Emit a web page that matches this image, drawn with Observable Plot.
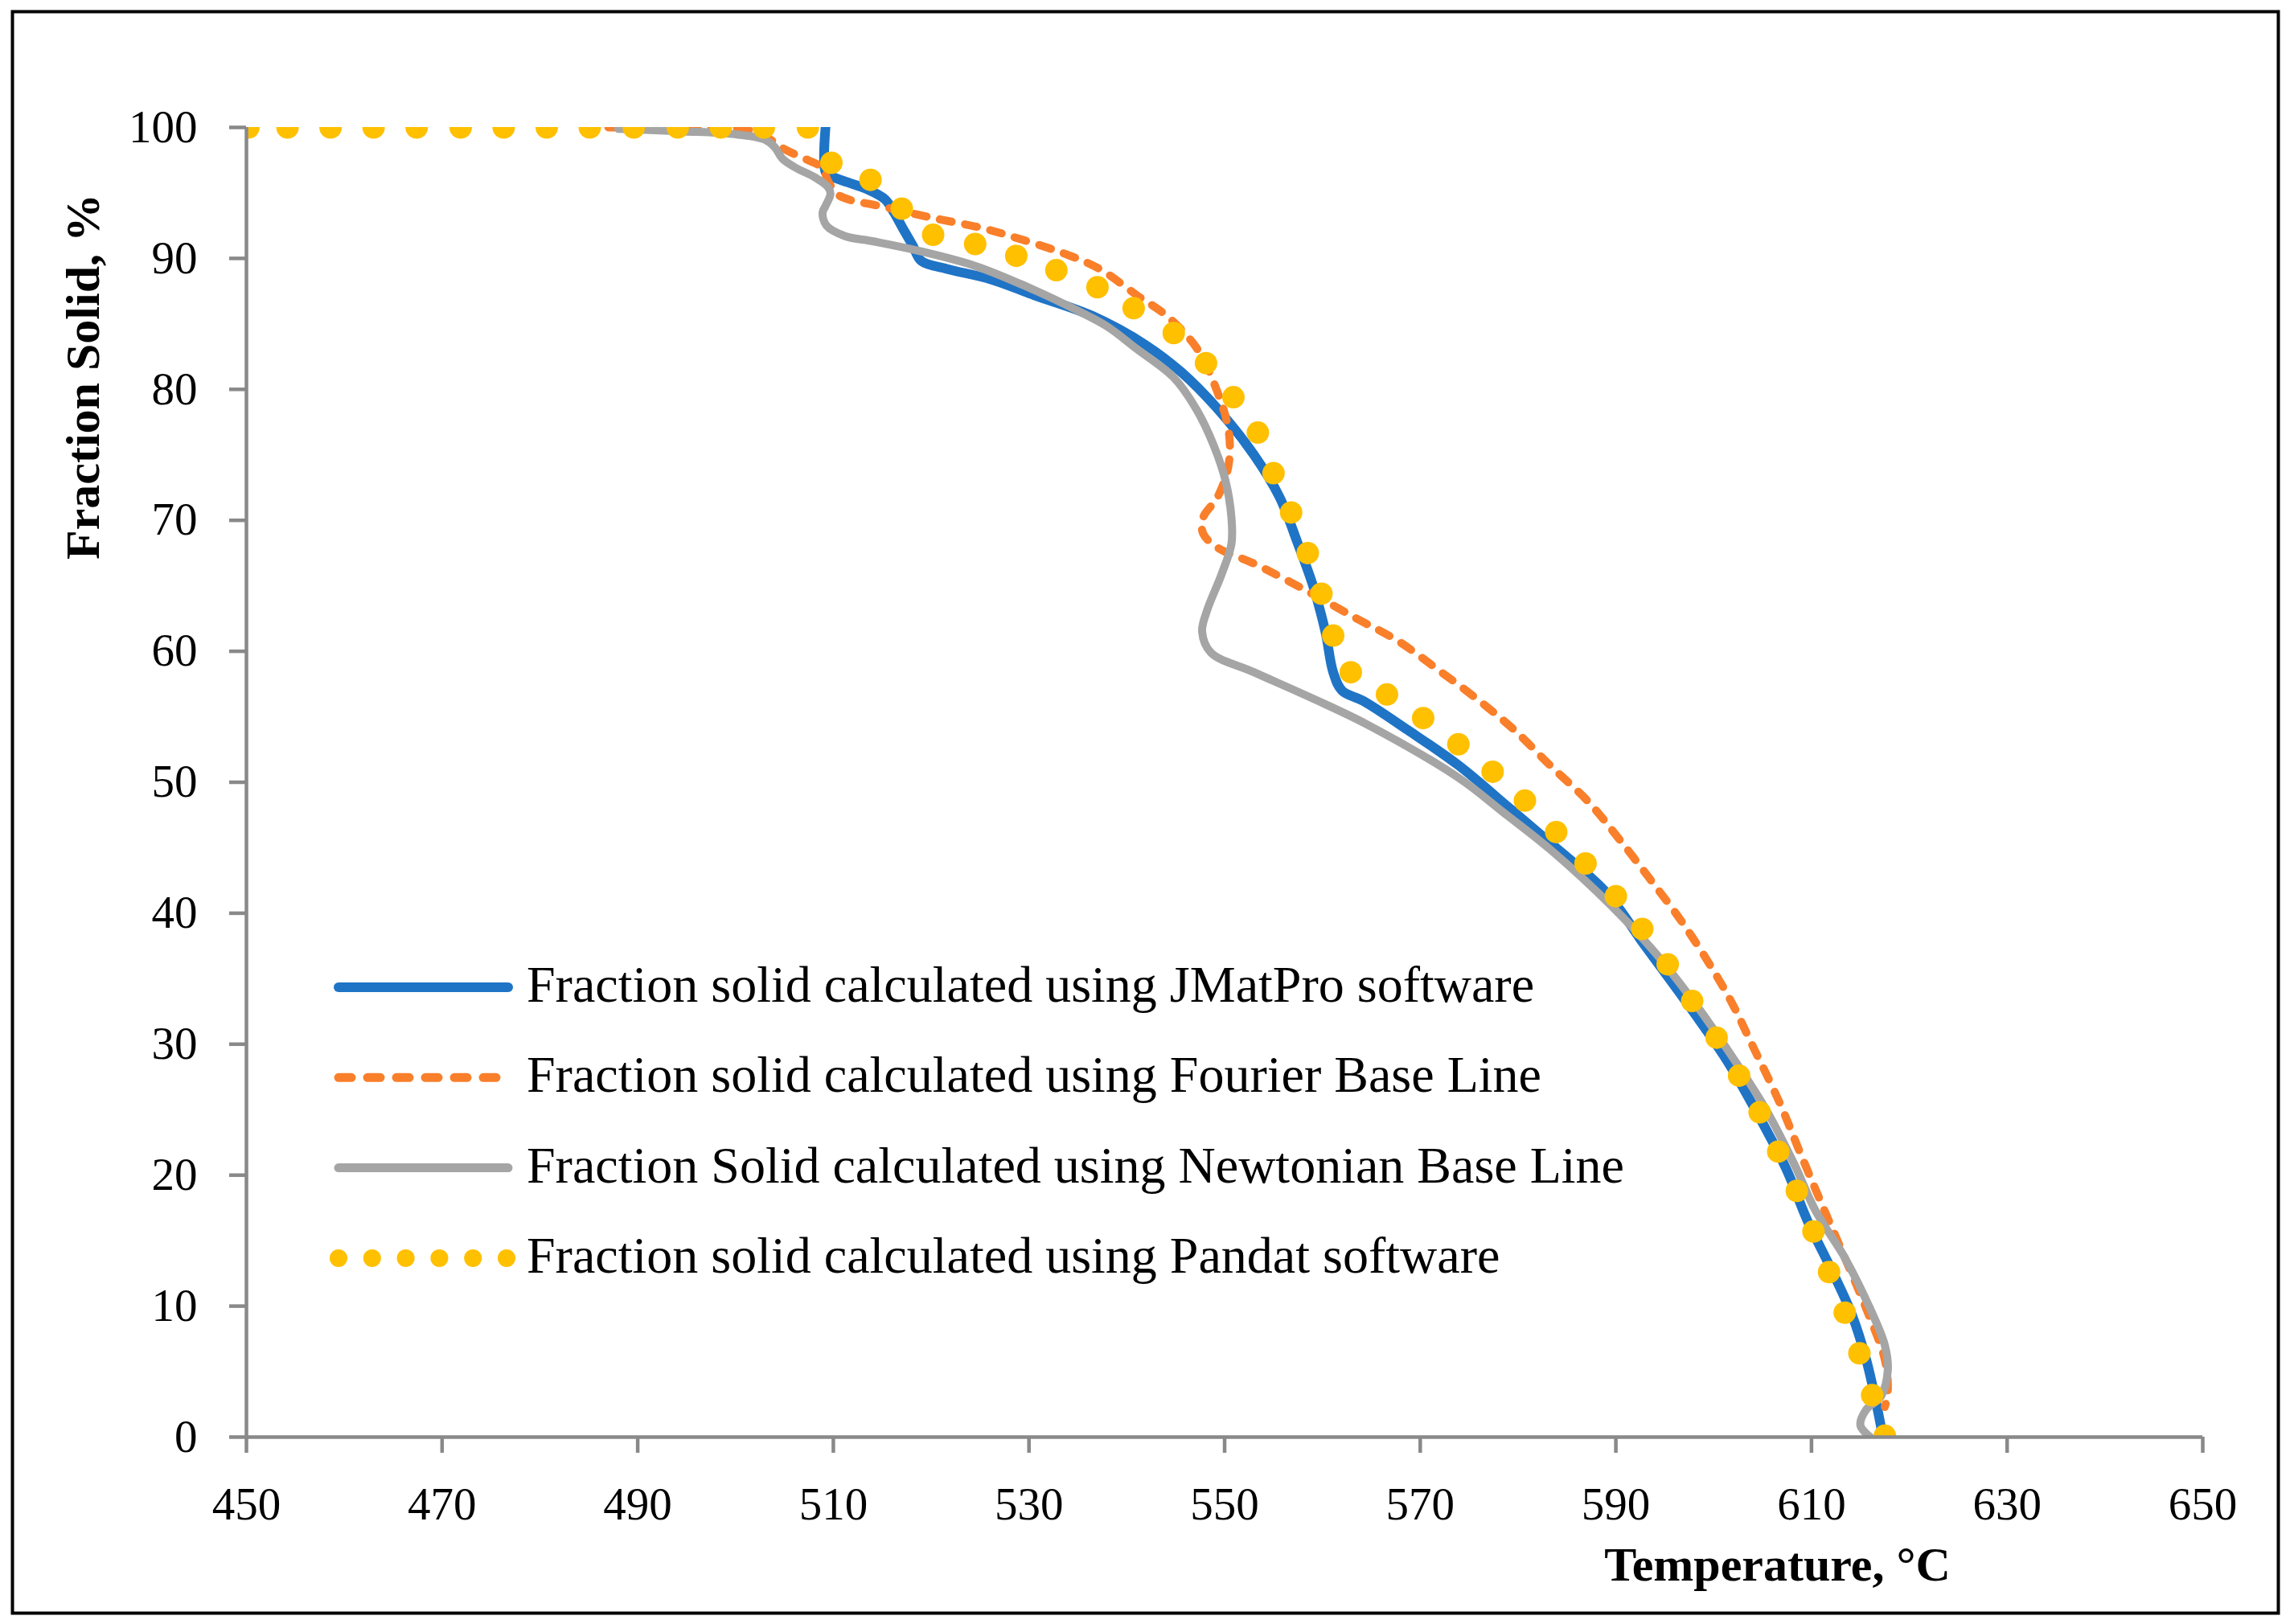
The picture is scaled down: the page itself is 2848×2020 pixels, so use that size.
<!DOCTYPE html>
<html>
<head>
<meta charset="utf-8">
<script src="https://cdn.jsdelivr.net/npm/d3@7"></script>
<script src="https://cdn.jsdelivr.net/npm/@observablehq/plot@0.6"></script>
<style>
  html, body { margin: 0; padding: 0; background: #fff; overflow: hidden; }
  #chart svg { display: block; }
</style>
</head>
<body>
<div id="chart"></div>
<script>
// ---- Data (temperature °C, fraction solid %) ----
const jmatproT = [509.2,509.2,509.7,511.5,513.4,515.3,516.2,517.1,518.1,519.0,521.6,526.1,530.5,536.5,541.9,545.6,549.3,553.0,555.6,557.5,559.0,560.3,561.1,562.0,564.2,568.7,573.9,579.0,583.4,589.0,592.9,597.7,601.4,604.4,607.4,609.6,611.9,614.1,615.6,616.7,617.3];
const jmatproF = [100,96.6,96.3,95.8,95.3,94.5,93.5,92.3,91.0,89.8,89.2,88.4,87.2,85.6,83.4,81.3,78.5,75.0,71.8,68.2,65.1,61.5,58.4,57.0,56.2,54.0,51.3,48.1,45.3,41.6,37.6,32.7,28.7,24.8,20.5,16.5,13.0,9.4,5.9,2.3,0];

const fourierT = [487.0,495.0,500.7,502.5,503.7,505.1,506.8,508.9,509.4,510.4,512.0,514.1,520.1,525.3,529.0,533.5,537.2,541.0,544.1,547.1,548.9,550.4,550.4,549.3,547.8,547.8,549.3,553.0,558.2,563.5,567.7,571.8,575.9,579.6,583.4,587.2,590.3,593.5,596.6,599.5,601.9,603.9,606.7,608.9,611.1,613.4,615.6,617.5,617.8,617.5];
const fourierF = [100,100,99.9,99.5,99.0,98.3,97.7,96.9,96.0,94.9,94.4,94.1,93.1,92.3,91.5,90.4,89.2,87.2,85.6,83.2,80.5,76.9,74.2,71.8,70.2,69.0,67.9,66.7,64.7,62.5,60.8,58.6,56.3,54.0,51.2,48.5,45.7,42.6,39.5,36.2,33.1,30.0,25.6,21.6,17.7,13.7,9.8,5.9,3.5,2.3];

const newtonianT = [488.0,494.7,499.6,502.9,504.0,504.8,506.2,508.1,509.5,509.7,509.2,508.9,509.3,511.2,514.1,518.6,524.6,530.5,535.0,538.0,541.0,544.8,547.1,548.9,550.1,550.7,550.7,549.7,548.2,547.7,548.6,553.0,559.0,564.6,574.0,578.5,583.4,589.5,594.0,598.5,602.2,605.2,608.2,610.4,613.4,616.0,617.5,617.8,617.1,615.6,615.0,616.0];
const newtonianF = [99.9,99.7,99.5,99.1,98.5,97.6,96.9,96.2,95.4,94.9,94.0,93.5,92.5,91.7,91.3,90.6,89.4,87.6,86.0,84.8,83.1,80.9,78.5,75.7,73.0,70.2,68.2,65.9,63.1,61.5,59.9,58.4,56.4,54.4,50.3,47.7,44.8,40.6,37.0,32.7,28.7,25.2,20.9,17.3,13.7,9.8,7.0,5.1,3.1,2.1,0.9,0];

const pandatT = [450.2,454.2,458.6,463.0,467.4,471.9,476.3,480.7,485.1,489.6,494.1,498.5,502.9,507.4,509.8,513.8,517.0,520.2,524.5,528.7,532.8,537.0,540.7,544.8,548.1,550.9,553.4,555.0,556.8,558.5,559.9,561.1,562.9,566.6,570.3,573.9,577.4,580.7,583.9,586.9,590.0,592.7,595.3,597.8,600.3,602.6,604.7,606.6,608.5,610.2,611.8,613.4,614.9,616.2,617.5];
const pandatF = [100,100,100,100,100,100,100,100,100,100,100,100,100,100,97.3,96.0,93.8,91.8,91.1,90.2,89.1,87.8,86.2,84.3,82.0,79.4,76.7,73.6,70.6,67.5,64.4,61.2,58.4,56.7,54.9,52.9,50.8,48.6,46.2,43.8,41.3,38.8,36.1,33.3,30.5,27.6,24.8,21.8,18.8,15.7,12.6,9.5,6.4,3.2,0.1];

const xTicks = [450,470,490,510,530,550,570,590,610,630,650];
const yTicks = [0,10,20,30,40,50,60,70,80,90,100];
const seriesLabels = [
  "Fraction solid calculated using JMatPro software",
  "Fraction solid calculated using Fourier Base Line",
  "Fraction Solid calculated using Newtonian Base Line",
  "Fraction solid calculated using Pandat software"
];
const xTitle = "Temperature, °C";
const yTitle = "Fraction Solid, %";

// ---- Build tables ----
const zip = (T, F) => T.map((t, i) => ({T: t, F: F[i]}));
const jmatpro = zip(jmatproT, jmatproF);
const fourier = zip(fourierT, fourierF);
const newtonian = zip(newtonianT, newtonianF);
const pandat = zip(pandatT, pandatF);

const C_BLUE = "#1f74c6", C_ORANGE = "#f97f2b", C_GRAY = "#a5a5a5", C_YELLOW = "#ffc000";
const AXIS = "#898989";
const FONT = "'Liberation Serif', 'Times New Roman', serif";

const chart = Plot.plot({
  width: 2848,
  height: 2020,
  marginLeft: 306,
  marginRight: 109,
  marginTop: 158,
  marginBottom: 233,
  style: {fontFamily: FONT, background: "#fff", color: "#000"},
  x: {domain: [450, 650]},
  y: {domain: [0, 100]},
  marks: [
    Plot.line(jmatpro, {x: "T", y: "F", stroke: C_BLUE, strokeWidth: 12, curve: "catmull-rom", clip: true}),
    Plot.line(fourier, {x: "T", y: "F", stroke: C_ORANGE, strokeWidth: 10, strokeDasharray: "15,17", strokeLinecap: "round", curve: "catmull-rom", clip: true}),
    Plot.line(newtonian, {x: "T", y: "F", stroke: C_GRAY, strokeWidth: 10, curve: "catmull-rom", clip: true}),
    Plot.dot(pandat, {x: "T", y: "F", r: 14, fill: C_YELLOW, stroke: "none", clip: true}),
    Plot.ruleX([450], {stroke: AXIS, strokeWidth: 4.5}),
    Plot.ruleY([0], {stroke: AXIS, strokeWidth: 4.5}),
    Plot.axisX({ticks: xTicks, tickSize: 20, tickPadding: 42, fontSize: 57, stroke: AXIS, strokeWidth: 4.5, fill: "#000", label: null, tickFormat: d => String(d)}),
    Plot.axisY({ticks: yTicks, tickSize: 21, tickPadding: 40, fontSize: 57, stroke: AXIS, strokeWidth: 4.5, fill: "#000", label: null, tickFormat: d => String(d)}),
    Plot.text([xTitle], {text: d => d, frameAnchor: "bottom-left", dx: 1904, dy: 178, lineAnchor: "bottom", textAnchor: "middle", fontSize: 60, fontWeight: "bold", fill: "#000"}),
    Plot.text([yTitle], {text: d => d, frameAnchor: "top-left", dx: -184, dy: 310, rotate: -90, lineAnchor: "bottom", textAnchor: "middle", fontSize: 60, fontWeight: "bold", fill: "#000"})
  ]
});

document.getElementById("chart").appendChild(chart);

// ---- Outer frame and in-plot legend ----
const svg = d3.select(chart);
svg.append("rect")
  .attr("x", 15.5).attr("y", 14.5).attr("width", 2818).attr("height", 1992)
  .attr("fill", "none").attr("stroke", "#000").attr("stroke-width", 4);

const leg = svg.append("g")
  .attr("font-family", FONT).attr("font-size", 64).attr("text-anchor", "start");
const legStyles = [
  {color: C_BLUE, width: 12, dash: null, dots: false},
  {color: C_ORANGE, width: 11, dash: "16,20", dots: false},
  {color: C_GRAY, width: 11, dash: null, dots: false},
  {color: C_YELLOW, width: 0, dash: null, dots: true}
];
seriesLabels.forEach((label, i) => {
  const cy = 1228 + i * 112.3;
  const s = legStyles[i];
  if (s.dots) {
    d3.range(6).forEach(k => {
      leg.append("circle").attr("cx", 421 + k * 41.8).attr("cy", cy).attr("r", 11).attr("fill", s.color);
    });
  } else {
    const ln = leg.append("line")
      .attr("x1", 421).attr("x2", 632).attr("y1", cy).attr("y2", cy)
      .attr("stroke", s.color).attr("stroke-width", s.width).attr("stroke-linecap", "round");
    if (s.dash) ln.attr("stroke-dasharray", s.dash);
  }
  leg.append("text").attr("x", 655).attr("y", cy + 18)
    .attr("text-anchor", "start").attr("fill", "#000").text(label);
});
</script>
</body>
</html>
